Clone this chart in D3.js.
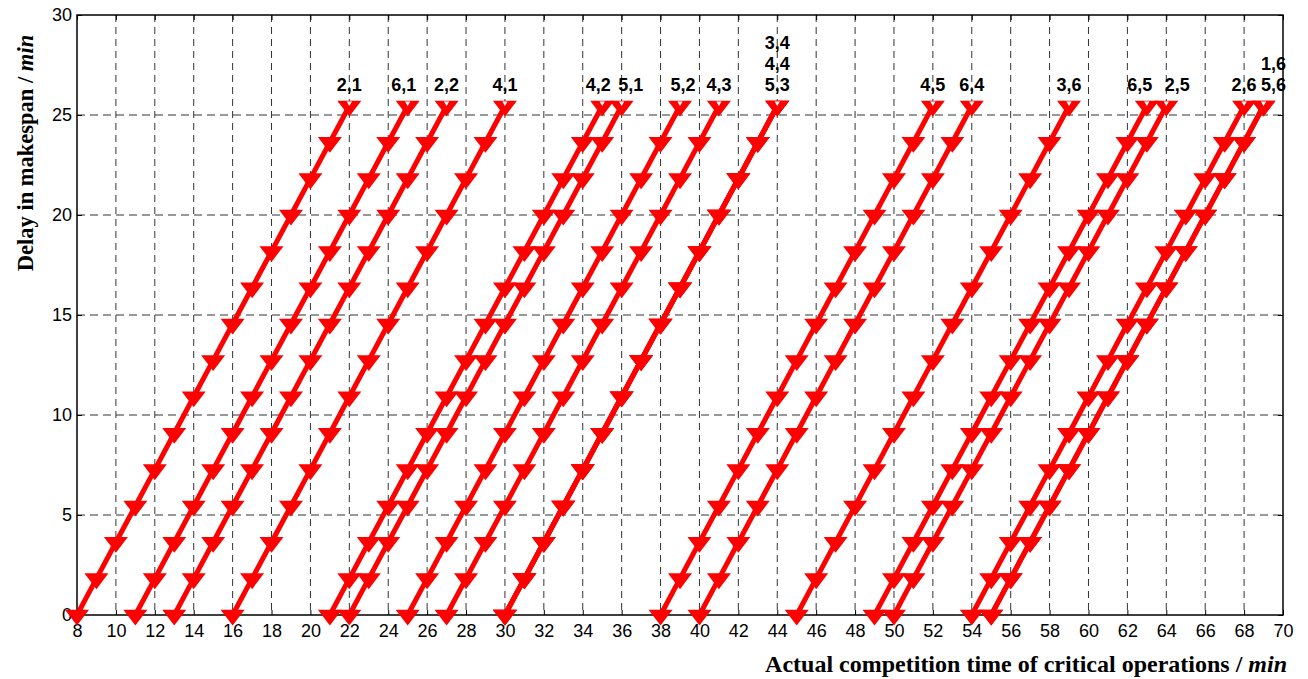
<!DOCTYPE html>
<html>
<head>
<meta charset="utf-8">
<script src="https://cdn.jsdelivr.net/npm/d3@7"></script>
<style>
  body { margin: 0; background: #fff; }
  svg { display: block; }
</style>
</head>
<body>
<svg id="chart" width="1308" height="679"></svg>
<script>
// start time of each critical operation (delay = 0)
const startTimes = [8, 11, 13, 16, 21, 22, 25, 27, 30, 30, 30, 38, 40, 45, 49, 50, 54, 55, 55];
// label at the top end of each line
const opLabels = ["2,1", "6,1", "2,2", "4,1", "4,2", "5,1", "5,2", "4,3", "5,3", "4,4", "3,4",
                  "4,5", "6,4", "3,6", "6,5", "2,5", "2,6", "5,6", "1,6"];
// time offsets from the start and the delay reached at each one
const stepOffsets = [0, 1, 2, 3, 4, 5, 6, 7, 8, 9, 10, 11, 12, 13, 14];
const delayLevels = [0, 1.82, 3.64, 5.45, 7.27, 9.09, 10.91, 12.73, 14.55, 16.36, 18.18, 20, 21.82, 23.64, 25.45];
const xTicks = d3.range(8, 71, 2);
const yTicks = [0, 5, 10, 15, 20, 25, 30];

// small horizontal nudges (px) so crowded labels don't collide
const labelDx = { "6,1": -4, "4,2": -4, "5,1": 9, "5,2": 3, "6,5": -7, "2,5": 11, "5,6": 10, "1,6": 10 };

const svg = d3.select("#chart");
const margin = { left: 77, right: 25, top: 15, bottom: 64 };
const width = 1308 - margin.left - margin.right;
const height = 679 - margin.top - margin.bottom;

const x = d3.scaleLinear().domain([8, 70]).range([0, width]);
const y = d3.scaleLinear().domain([0, 30]).range([height, 0]);

const g = svg.append("g").attr("transform", `translate(${margin.left},${margin.top})`);

// grid
g.append("g").selectAll("line")
    .data(xTicks.slice(1, -1))
    .join("line")
    .attr("x1", d => x(d)).attr("x2", d => x(d))
    .attr("y1", 0).attr("y2", height)
    .attr("stroke", "#333").attr("stroke-width", 1)
    .attr("stroke-dasharray", "7,5");

g.append("g").selectAll("line")
    .data(yTicks.slice(1, -1))
    .join("line")
    .attr("x1", 0).attr("x2", width)
    .attr("y1", d => y(d)).attr("y2", d => y(d))
    .attr("stroke", "#333").attr("stroke-width", 1)
    .attr("stroke-dasharray", "8,5");

// axes
const xAxis = g.append("g").attr("transform", `translate(0,${height})`)
    .call(d3.axisBottom(x).tickValues(xTicks).tickSizeInner(-5).tickSizeOuter(0).tickPadding(9));
const yAxis = g.append("g")
    .call(d3.axisLeft(y).tickValues(yTicks).tickSizeInner(-5).tickSizeOuter(0).tickPadding(5));
g.append("g").attr("transform", `translate(${width},0)`)
    .call(d3.axisRight(y).tickValues(yTicks).tickSizeInner(-5).tickSizeOuter(0).tickFormat(""));
g.append("g")
    .call(d3.axisTop(x).tickValues(xTicks).tickSizeInner(-5).tickSizeOuter(0).tickFormat(""));

g.selectAll(".domain").remove();
g.selectAll(".tick line").attr("stroke", "#000");
[xAxis, yAxis].forEach(a => a.selectAll("text")
    .attr("font-family", "Liberation Sans, Arial, sans-serif")
    .attr("font-size", 18)
    .attr("fill", "#000"));

g.append("rect")
    .attr("width", width).attr("height", height)
    .attr("fill", "none").attr("stroke", "#000").attr("stroke-width", 1.5);

// series
const series = startTimes.map((s, i) => ({
    label: opLabels[i],
    points: stepOffsets.map((o, k) => ({ t: s + o, delay: delayLevels[k] }))
}));

const line = d3.line().x(d => x(d.t)).y(d => y(d.delay));
const tri = d3.symbol().type(d3.symbolTriangle).size(160);

series.forEach(s => {
    const sg = g.append("g");
    sg.append("path")
        .attr("d", line(s.points))
        .attr("fill", "none")
        .attr("stroke", "#ff0000")
        .attr("stroke-width", 5);
    sg.selectAll("path.mk")
        .data(s.points)
        .join("path")
        .attr("class", "mk")
        .attr("d", tri)
        .attr("transform", d => `translate(${x(d.t)},${y(d.delay)}) rotate(180) scale(1.25,0.95)`)
        .attr("fill", "#ff0000");
    const last = s.points[s.points.length - 1];
    sg.append("path")
        .attr("d", d3.symbol().type(d3.symbolTriangle).size(12)())
        .attr("transform", `translate(${x(last.t)},${y(last.delay) - 3}) rotate(180)`)
        .attr("fill", "#fff");
});

// labels stacked above the line ends
const stackCount = {};
series.forEach(s => {
    const last = s.points[s.points.length - 1];
    const k = stackCount[last.t] || 0;
    stackCount[last.t] = k + 1;
    g.append("text")
        .attr("x", x(last.t) + (labelDx[s.label] || 0))
        .attr("y", y(last.delay) - 15 - k * 21)
        .attr("text-anchor", "middle")
        .attr("font-family", "Liberation Sans, Arial, sans-serif")
        .attr("font-weight", "bold")
        .attr("font-size", 18)
        .attr("fill", "#000")
        .text(s.label);
});

// axis titles
const xt = svg.append("text")
    .attr("x", margin.left + width + 4)
    .attr("y", 672)
    .attr("text-anchor", "end")
    .attr("font-family", "Liberation Serif, Times New Roman, serif")
    .attr("font-weight", "bold")
    .attr("font-size", 24);
xt.append("tspan").text("Actual competition time of critical operations / ");
xt.append("tspan").attr("font-style", "italic").text("min");

const yt = svg.append("text")
    .attr("transform", "translate(33,153) rotate(-90)")
    .attr("text-anchor", "middle")
    .attr("font-family", "Liberation Serif, Times New Roman, serif")
    .attr("font-weight", "bold")
    .attr("font-size", 22.5);
yt.append("tspan").text("Delay in makespan / ");
yt.append("tspan").attr("font-style", "italic").text("min");
</script>
</body>
</html>
